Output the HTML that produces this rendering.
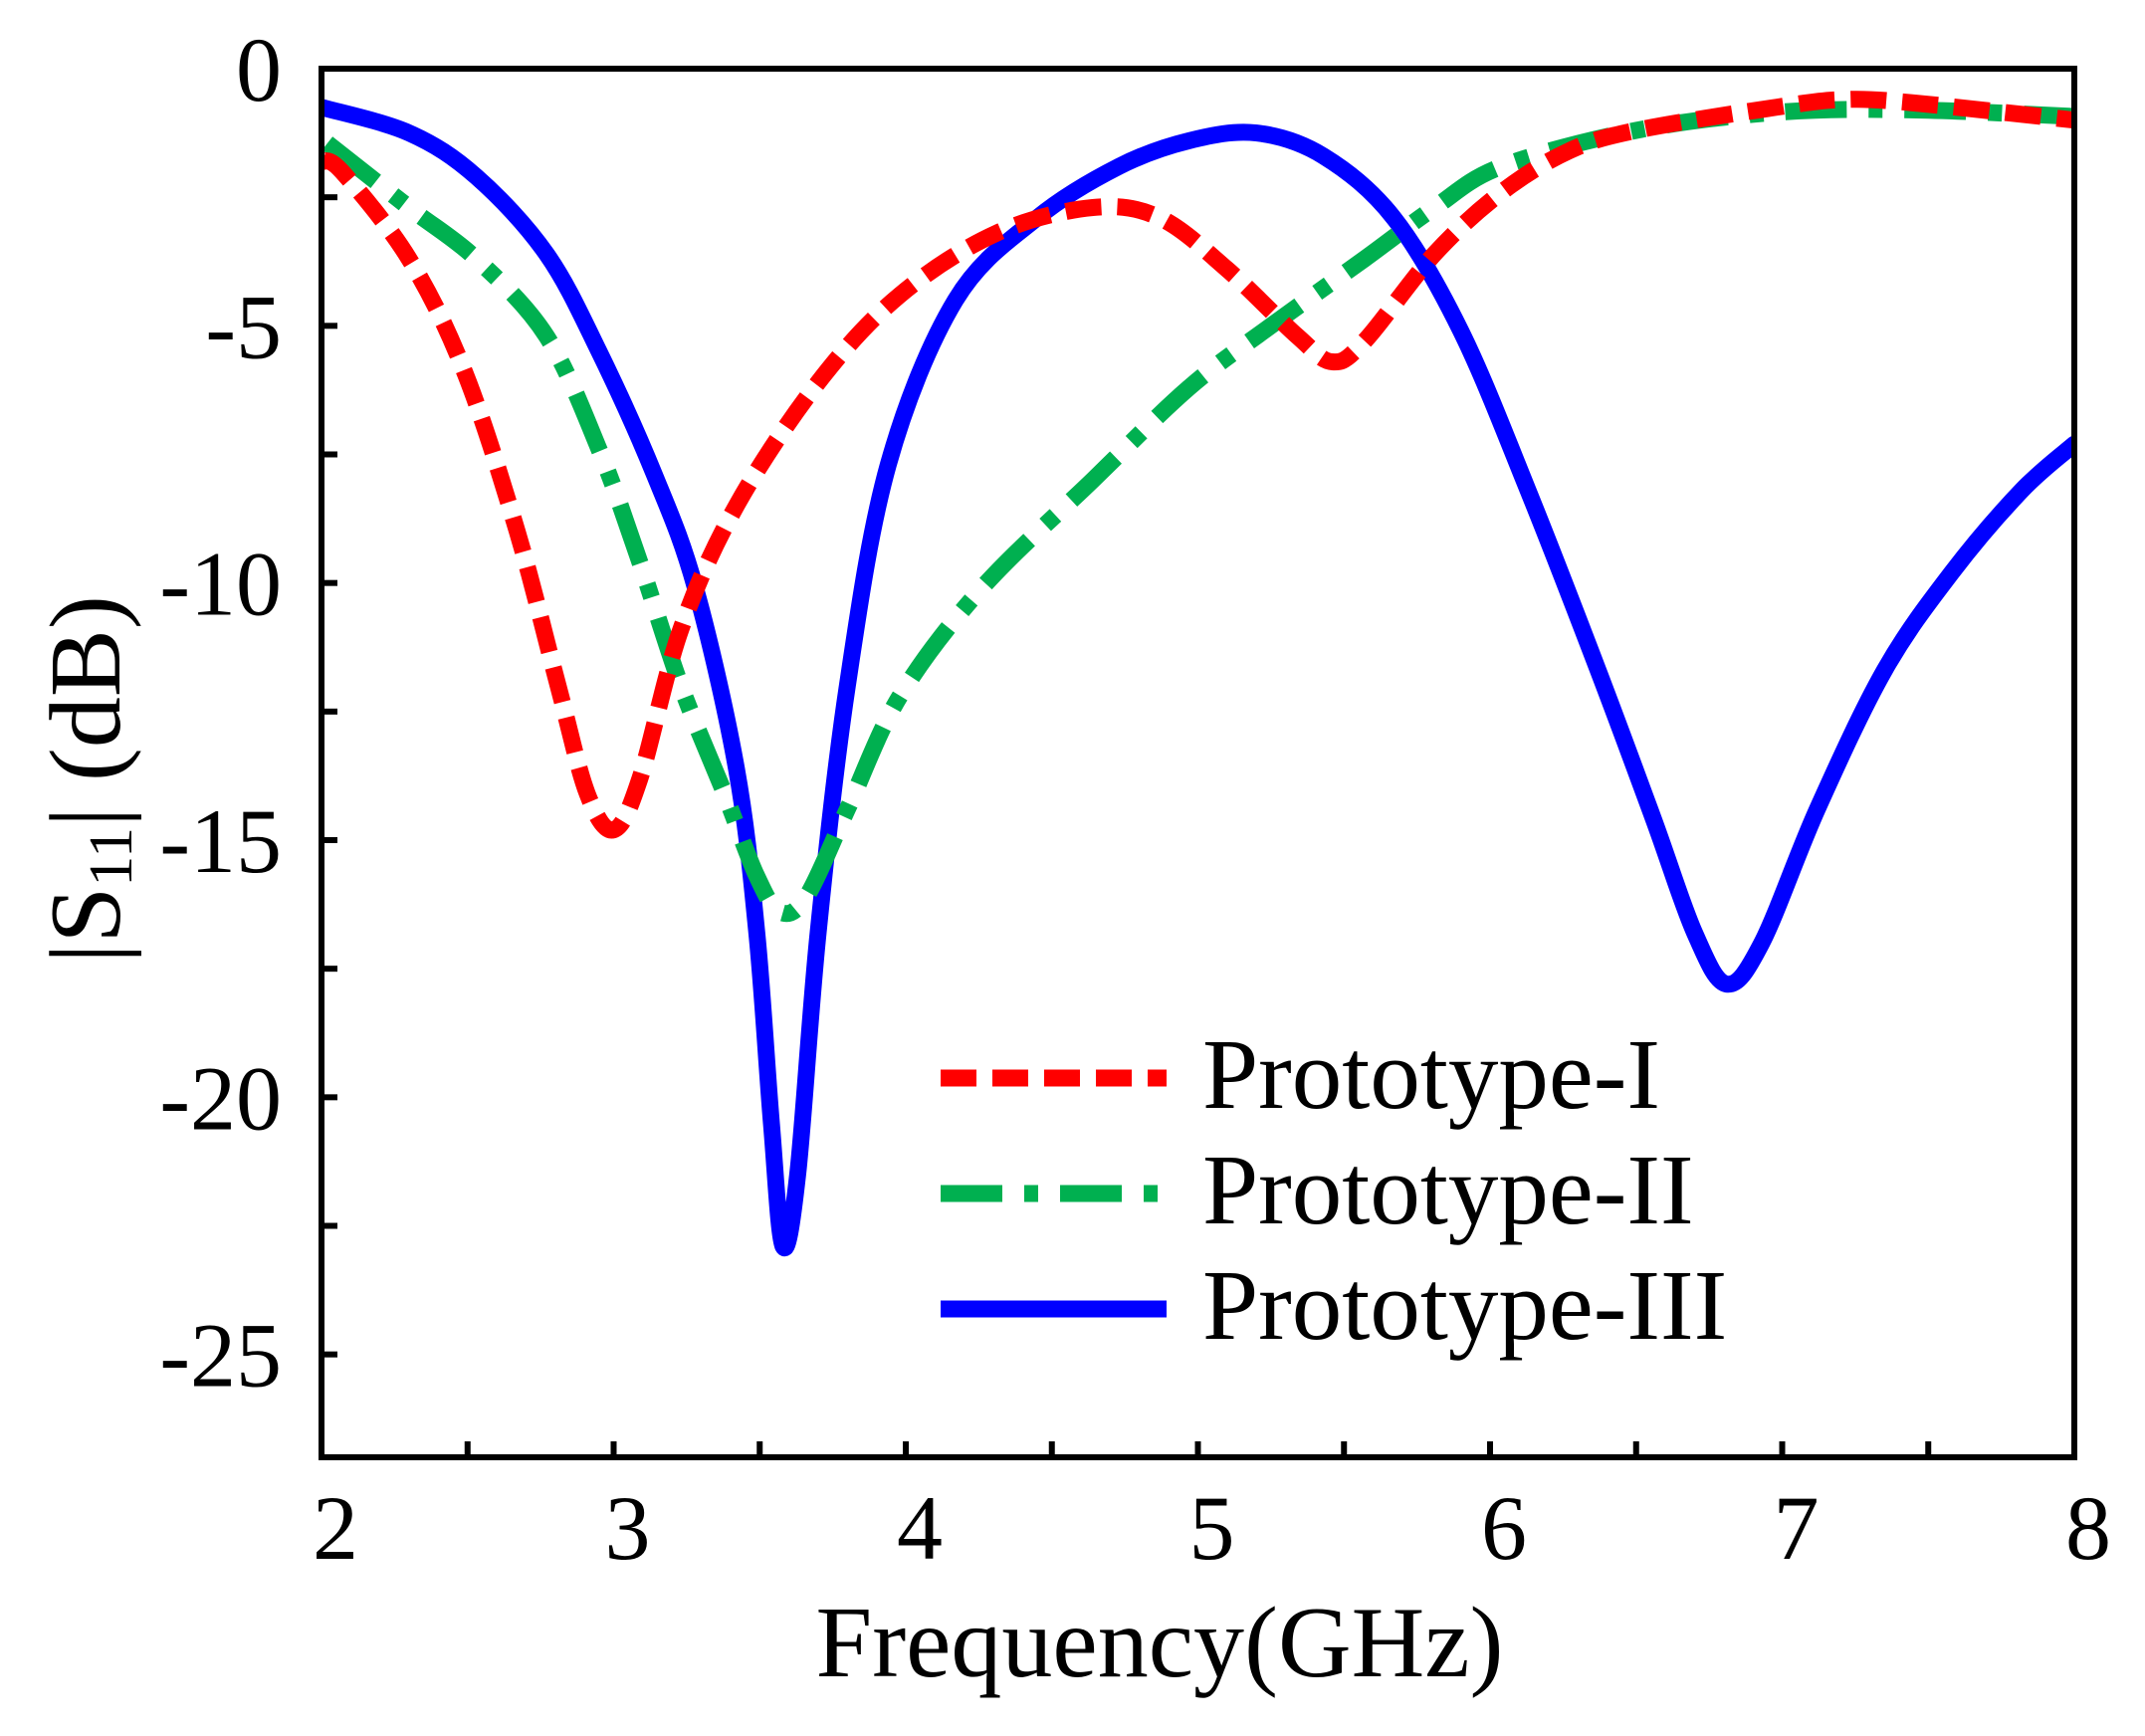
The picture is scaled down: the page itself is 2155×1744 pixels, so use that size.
<!DOCTYPE html>
<html><head><meta charset="utf-8"><style>
html,body{margin:0;padding:0;background:#fff;}
svg{display:block;font-family:"Liberation Serif",serif;}
</style></head><body>
<svg id="chart" width="2155" height="1744" viewBox="0 0 2155 1744">
<g id="plot"></g>
</svg>
<script>
const xTicks=[2,3,4,5,6,7,8];
const yTicks=[0,-5,-10,-15,-20,-25];
const f1=[2.0,2.07,2.3,2.49,2.67,2.81,2.91,3.0,3.09,3.23,3.42,3.70,3.98,4.31,4.64,4.87,5.1,5.34,5.46,5.57,5.81,6.04,6.27,6.5,6.98,7.21,7.44,8.0];
const s1=[-1.8,-2.0,-3.7,-5.9,-9.0,-12.0,-14.1,-14.8,-13.8,-10.9,-8.5,-6.1,-4.4,-3.2,-2.7,-2.9,-3.9,-5.2,-5.7,-5.3,-3.6,-2.4,-1.6,-1.2,-0.75,-0.6,-0.66,-1.0];
const f2=[2.02,2.3,2.53,2.77,2.95,3.09,3.23,3.38,3.49,3.57,3.66,3.8,3.98,4.26,4.64,4.97,5.25,5.57,5.81,6.04,6.5,6.98,7.44,8.0];
const s2=[-1.45,-2.7,-3.7,-5.2,-7.4,-9.6,-12,-14.1,-15.7,-16.4,-16.1,-14.4,-12.2,-10.1,-8.0,-6.2,-5.0,-3.7,-2.7,-1.9,-1.2,-0.85,-0.8,-0.93];
const f3=[2.0,2.3,2.53,2.77,2.95,3.14,3.28,3.42,3.49,3.54,3.58,3.63,3.70,3.80,3.94,4.17,4.45,4.73,4.97,5.2,5.43,5.67,5.9,6.13,6.37,6.56,6.70,6.81,6.93,7.12,7.35,7.58,7.82,8.0];
const s3=[-0.75,-1.25,-2.1,-3.6,-5.5,-7.9,-10.1,-13.6,-16.8,-20.5,-22.9,-21.5,-16.8,-12.0,-7.7,-4.5,-2.9,-1.9,-1.4,-1.25,-1.7,-2.9,-5.1,-8.2,-11.7,-14.6,-16.8,-17.8,-17.0,-14.4,-11.7,-9.8,-8.2,-7.3];
const names=["Prototype-I","Prototype-II","Prototype-III"];

const L=323,R=2084,T=69,B=1464;
const X=f=>L+(f-2)/6*(R-L);
const Y=v=>T+(-v)/27*(B-T);
const NS="http://www.w3.org/2000/svg";
const svg=document.getElementById('chart');
function mk(t,a,p){const e=document.createElementNS(NS,t);for(const k in a)e.setAttribute(k,a[k]);(p||svg).appendChild(e);return e;}
function path(fs,vs){
  const p=fs.map((f,i)=>[X(f),Y(vs[i])]);
  let d="M"+p[0][0]+","+p[0][1];
  for(let i=0;i<p.length-1;i++){
    const p0=p[i-1]||p[i],p1=p[i],p2=p[i+1],p3=p[i+2]||p2;
    const c1=[p1[0]+(p2[0]-p0[0])/6,p1[1]+(p2[1]-p0[1])/6];
    const c2=[p2[0]-(p3[0]-p1[0])/6,p2[1]-(p3[1]-p1[1])/6];
    d+=` C${c1[0]},${c1[1]} ${c2[0]},${c2[1]} ${p2[0]},${p2[1]}`;
  }
  return d;
}
const plot=document.getElementById('plot');
const cp=mk('clipPath',{id:'clip'});
mk('rect',{x:L,y:T-12,width:R-L,height:B-T+12},cp);
const styles=[
 {stroke:'#ff0000',dash:'36 16',w:17},
 {stroke:'#00b050',dash:'62 22 14 22',w:17},
 {stroke:'#0000ff',dash:'',w:17}];
const F=[f1,f2,f3],S=[s1,s2,s3];
for(let i=2;i>=0;i--){
  const st=styles[i];
  const e=mk('path',{d:path(F[i],S[i]),fill:'none',stroke:st.stroke,'stroke-width':st.w,'stroke-dasharray':st.dash,'stroke-linejoin':'round','stroke-linecap':i==2?'round':'butt','clip-path':'url(#clip)'},plot);
  
  
}
const fr=mk('rect',{x:L,y:T,width:R-L,height:B-T,fill:'none',stroke:'#000','stroke-width':6});


for(let f=2;f<=8.001;f+=0.5){
  const t=mk('line',{x1:X(f),x2:X(f),y1:B,y2:B-16,stroke:'#000','stroke-width':6});
  
  
}
for(let v=0;v>=-27;v-=2.5){
  const t=mk('line',{x1:L,x2:L+16,y1:Y(v),y2:Y(v),stroke:'#000','stroke-width':6});
  
  
}
xTicks.forEach(f=>{
  const t=mk('text',{x:X(f)+14,y:1566,'font-size':92,'text-anchor':'middle'});
  t.textContent=f;
  
  
});
yTicks.forEach(v=>{
  const t=mk('text',{x:283,y:Y(v)+32,'font-size':92,'text-anchor':'end'});
  t.textContent=v;
  
  
});
const xt=mk('text',{x:1165,y:1684,'font-size':102,'text-anchor':'middle'});
xt.textContent='Frequency(GHz)';


const yt=mk('text',{transform:'translate(120,783) rotate(-90)','font-size':102,'text-anchor':'middle'});
yt.innerHTML='|S<tspan font-size="62" dy="12">11</tspan><tspan dy="-12">| (dB)</tspan>';


const ly=[1083,1199,1315];
for(let i=0;i<3;i++){
  const st=styles[i];
  const l=mk('line',{x1:945,x2:1172,y1:ly[i],y2:ly[i],stroke:st.stroke,'stroke-width':17,'stroke-dasharray':st.dash});
  
  
  const t=mk('text',{x:1208,y:ly[i]+30,'font-size':101});
  t.textContent=names[i];
  
  
}
</script>
</body></html>
